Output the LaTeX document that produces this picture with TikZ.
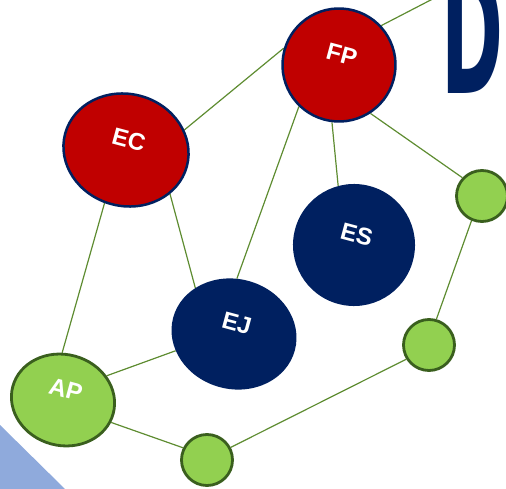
\documentclass[tikz,border=0pt]{standalone}
\usepackage{fontspec}
\setmainfont{Liberation Sans}
\newfontfamily\titlefont{DejaVu Sans}
\usepackage{tikz}
\usetikzlibrary{shapes.geometric,backgrounds}
\definecolor{topicred}{HTML}{C00000}
\definecolor{topicnavy}{HTML}{002060}
\definecolor{topicgreen}{HTML}{92D050}
\definecolor{topicdkgreen}{HTML}{3A5F1E}
\definecolor{linkgreen}{HTML}{5E8C31}
\definecolor{cornerblue}{HTML}{8FAADC}

\begin{document}
\begin{tikzpicture}[x=1pt,y=-1pt,
    topic/.style={ellipse,inner sep=0,rotate=-15,text depth=22pt,text=white,font=\fontsize{24}{24}\selectfont\bfseries},
    redtopic/.style={topic,fill=topicred,draw=topicnavy,line width=2.5pt},
    navytopic/.style={topic,fill=topicnavy},
    greentopic/.style={topic,fill=topicgreen,draw=topicdkgreen,line width=2.8pt},
    hub/.style={circle,inner sep=0,minimum size=51pt,fill=topicgreen,draw=topicdkgreen,line width=2.8pt},
    link/.style={draw=linkgreen,line width=1.2pt}]
  \clip (0,0) rectangle (506,489);
  \useasboundingbox (0,0) rectangle (506,489);
  \fill[cornerblue] (0,425) -- (65,489) -- (0,489) -- cycle;
  \node(title)[anchor=base west,inner sep=0,text=topicnavy,font=\titlefont\bfseries] at (441.5,94) {\resizebox{62pt}{124pt}{D}};
  \node(fp)[redtopic,minimum width=113pt,minimum height=113pt] at (339,65) {FP};
  \node(ec)[redtopic,minimum width=126pt,minimum height=112pt] at (126,150) {EC};
  \node(es)[navytopic,minimum width=122pt,minimum height=122pt] at (354,245) {ES};
  \node(ej)[navytopic,minimum width=126pt,minimum height=110pt] at (234,334) {EJ};
  \node(ap)[greentopic,minimum width=104pt,minimum height=91pt] at (63,400) {AP};
  \node(hubA)[hub] at (482,196) {};
  \node(hubB)[hub] at (429,345) {};
  \node(hubC)[hub] at (207,460) {};
  \coordinate(off) at (450,-10);
  \begin{scope}[on background layer]
    \draw[link] (fp.58) -- (off);
    \draw[link] (ec.34) -- (fp.178);
    \draw[link] (fp.-119) -- (ej.102);
    \draw[link] (fp.-82) -- (es.120);
    \draw[link] (fp.-42) -- (hubA.137);
    \draw[link] (ec.-30) -- (ej.145);
    \draw[link] (ec.-97) -- (ap.106);
    \draw[link] (ej.-149) -- (ap.44);
    \draw[link] (ap.-10) -- (hubC.153);
    \draw[link] (hubC.28) -- (hubB.212);
    \draw[link] (hubB.74) -- (hubA.-113);
  \end{scope}
\end{tikzpicture}
\end{document}
